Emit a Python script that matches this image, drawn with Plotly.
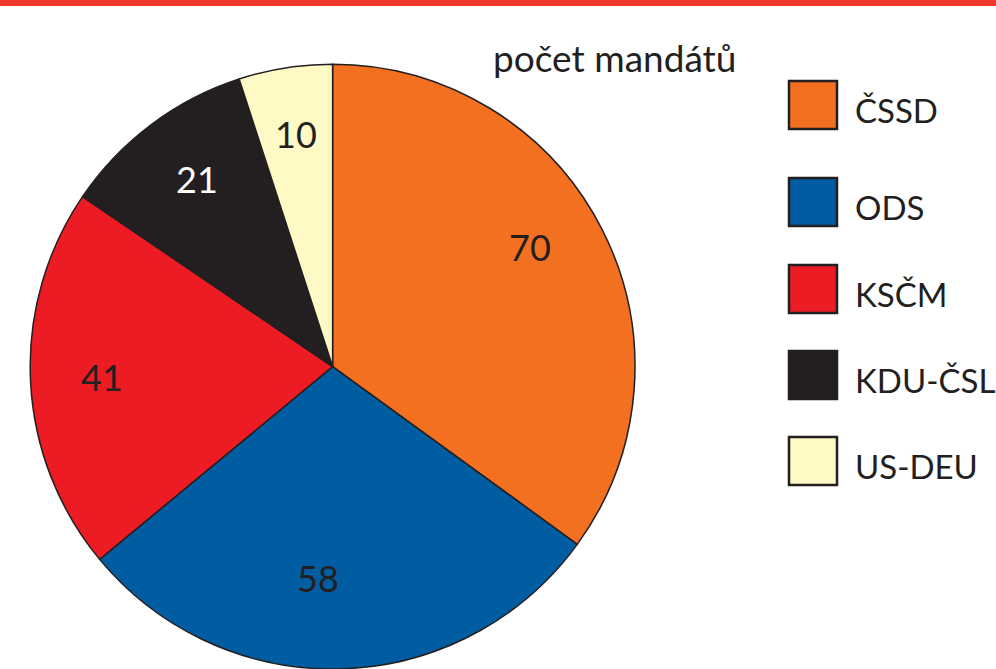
import math
import plotly.graph_objects as go

# ---- data ----
parties = ["ČSSD", "ODS", "KSČM", "KDU-ČSL", "US-DEU"]
seats = [70, 58, 41, 21, 10]
title_text = "počet mandátů"

# ---- style ----
colors = ["#F37021", "#005DA2", "#ED1C24", "#231F20", "#FFF9C5"]
label_colors = ["#231F20", "#231F20", "#231F20", "#FFFFFF", "#231F20"]
label_r = [0.765, 0.70, 0.765, 0.765, 0.78]
label_dangle = [-4.2, 5.8, 0.0, 1.0, 0.0]
FONT = "Lato"
W, H = 996, 669
cx, cy, R = 332.6, 366.6, 302.4

fig = go.Figure()
fig.add_trace(go.Pie(
    labels=parties, values=seats, sort=False, direction="clockwise", rotation=0,
    marker=dict(colors=colors, line=dict(color="#231F20", width=1.5)),
    textinfo="none", hoverinfo="label+value", showlegend=False,
    domain=dict(x=[(cx - R) / W, (cx + R) / W], y=[0, (2 * R) / H]),
))

annotations = []
total = sum(seats)
cum = 0
for i, v in enumerate(seats):
    mid = (cum + v / 2) / total * 360 + label_dangle[i]
    cum += v
    r = label_r[i] * R
    px = cx + r * math.sin(math.radians(mid))
    py = cy - r * math.cos(math.radians(mid))
    annotations.append(dict(x=px / W, y=1 - py / H, xref="paper", yref="paper",
                            xanchor="center", yanchor="middle",
                            text=str(v), showarrow=False,
                            font=dict(family=FONT, size=36, color=label_colors[i])))

annotations.append(dict(x=614 / W, y=1 - 58 / H, xref="paper", yref="paper",
                        xanchor="center", yanchor="middle",
                        text=title_text, showarrow=False,
                        font=dict(family=FONT, size=37, color="#231F20")))

shapes = [dict(type="rect", xref="paper", yref="paper", x0=0, x1=1, y0=1 - 6 / H, y1=1,
               fillcolor="#EF3829", line=dict(width=0))]
leg_y = [105, 202, 289, 375, 461]
for i, p in enumerate(parties):
    y = leg_y[i]
    shapes.append(dict(type="rect", xref="paper", yref="paper",
                       x0=789 / W, x1=837 / W, y0=1 - (y + 24) / H, y1=1 - (y - 24) / H,
                       fillcolor=colors[i], line=dict(color="#231F20", width=2.5)))
    annotations.append(dict(x=853 / W, y=1 - (y + 5) / H, xref="paper", yref="paper",
                            xanchor="left", yanchor="middle", text=p, showarrow=False,
                            font=dict(family=FONT, size=33, color="#231F20")))

fig.update_layout(width=W, height=H, margin=dict(l=0, r=0, t=0, b=0),
                  paper_bgcolor="white", plot_bgcolor="white",
                  shapes=shapes, annotations=annotations)
fig.write_html("out.html", config={"displayModeBar": False},
               post_script="document.body.style.margin='0px';document.body.style.overflow='hidden';")
